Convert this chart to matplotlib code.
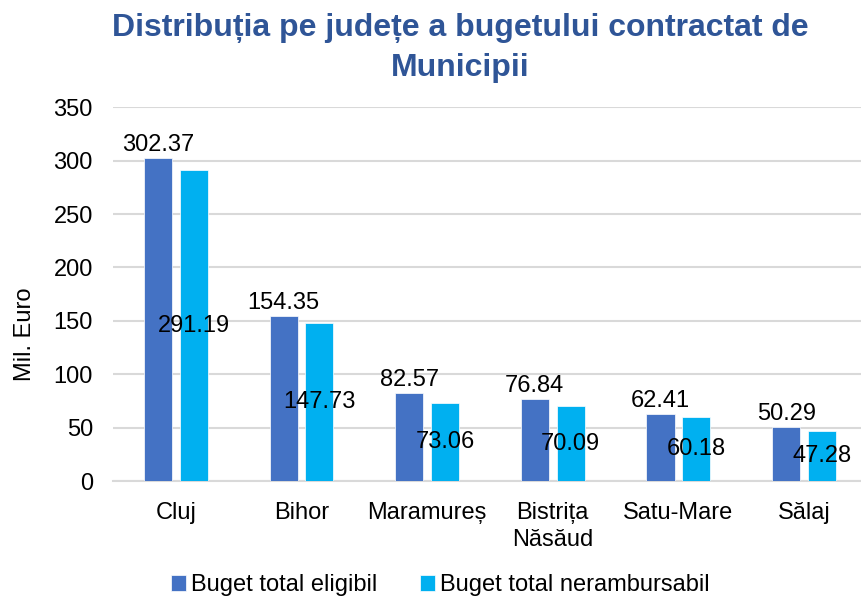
import numpy as np
import matplotlib.pyplot as plt

# values (Mil. Euro)
judete = ['Cluj', 'Bihor', 'Maramureș', 'Bistrița\nNăsăud', 'Satu-Mare', 'Sălaj']
eligibil = [302.37, 154.35, 82.57, 76.84, 62.41, 50.29]
nerambursabil = [291.19, 147.73, 73.06, 70.09, 60.18, 47.28]
yticks = [0, 50, 100, 150, 200, 250, 300, 350]

plt.rcParams['font.family'] = ['Liberation Sans', 'DejaVu Sans']

fig = plt.figure(figsize=(8.61, 6.0), dpi=100)
ax = fig.add_axes([113 / 861, 119 / 600, 748 / 861, 373.7 / 600])

x = np.arange(len(judete))
width = 0.223
off = 0.142
b1 = ax.bar(x - off, eligibil, width, color='#4472C4', edgecolor='white',
            linewidth=0.5, label='Buget total eligibil', zorder=3)
b2 = ax.bar(x + off, nerambursabil, width, color='#00B0F0', edgecolor='white',
            linewidth=0.5, label='Buget total nerambursabil', zorder=3)

# labels: first series above the bar, second series in the middle of the bar
for bar, val in zip(b1, eligibil):
    ax.text(bar.get_x() + bar.get_width() / 2, val + 2, f'{val:.2f}',
            ha='center', va='bottom', fontsize=17, zorder=4)
for bar, val in zip(b2, nerambursabil):
    ax.text(bar.get_x() + bar.get_width() / 2, val / 2, f'{val:.2f}',
            ha='center', va='center', fontsize=17, zorder=4)

ax.set_xlim(-0.5, 5.454)
ax.set_ylim(0, 350)
ax.set_yticks(yticks)
ax.set_xticks(x)
ax.set_xticklabels(judete, fontsize=17, linespacing=1.3)
ax.tick_params(axis='y', labelsize=17, length=0, pad=14.5)
ax.tick_params(axis='x', length=0, pad=15)
ax.grid(True, axis='y', color='#D9D9D9', linewidth=1.5, zorder=0)
for s in ['top', 'right', 'left']:
    ax.spines[s].set_visible(False)
ax.spines['bottom'].set_color('#D9D9D9')
ax.spines['bottom'].set_linewidth(1.5)

fig.text(25 / 861, 1 - 334 / 600, 'Mil. Euro', rotation=90, ha='center',
         va='center', fontsize=17)

fig.text(460 / 861, 1 - 13 / 600,
         'Distribuția pe județe a bugetului contractat de\nMunicipii',
         ha='center', va='top', fontsize=23, fontweight='bold',
         color='#2F5597', linespacing=1.45)

fig.legend(handles=[b1, b2], loc='center', bbox_to_anchor=(440 / 861, 1 - 585 / 600),
           ncol=2, frameon=False, fontsize=17, handlelength=0.65, handleheight=0.65,
           handletextpad=0.2, columnspacing=1.8)

fig.savefig('out.png', dpi=100)
